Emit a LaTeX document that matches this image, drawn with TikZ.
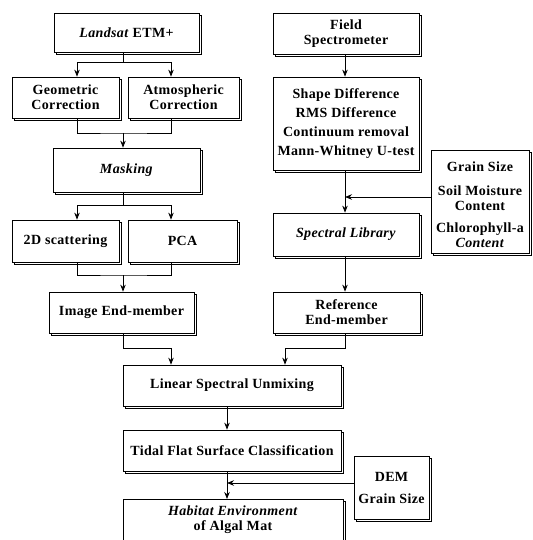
\documentclass[tikz,border=0pt]{standalone}
\usepackage{fontspec}
\setmainfont{Liberation Serif}[LetterSpace=2.5]
\usetikzlibrary{shadows,arrows.meta}
\newcommand{\fs}{\fontsize{14}{15}\selectfont\bfseries}
\begin{document}
\begin{tikzpicture}[x=1pt,y=-1pt,
  bx/.style={draw, fill=white, line width=0.7pt, inner sep=1pt, align=center, font=\fs,
    general shadow={shadow xshift=2.2pt, shadow yshift=-2.2pt, fill=white, draw=black, line width=0.7pt}},
  arr/.style={-{Stealth[length=7pt,width=5.5pt]}, line width=0.8pt},
  ln/.style={line width=0.8pt}]
\useasboundingbox (0,0) rectangle (532,540);
% left column
\node[bx, minimum width=145pt, minimum height=39pt] (landsat) at (126.5,32.5) {\textit{Landsat} ETM+};
\node[bx, minimum width=107pt, minimum height=41pt] (geo) at (65.5,97.5) {Geometric\\Correction};
\node[bx, minimum width=111pt, minimum height=41pt] (atm) at (183.5,97.5) {Atmospheric\\Correction};
\node[bx, minimum width=147pt, minimum height=44pt] (mask) at (126.5,170) {\textit{Masking}};
\node[bx, minimum width=107pt, minimum height=42pt] (scat) at (65.5,241) {2D scattering};
\node[bx, minimum width=109pt, minimum height=42pt] (pca) at (182.5,241) {PCA};
\node[bx, minimum width=145pt, minimum height=41pt] (img) at (121.5,312.5) {Image End-member};
% right column
\node[bx, minimum width=146pt, minimum height=41pt] (field) at (346,33.5) {Field\\Spectrometer};
\node[bx, minimum width=146pt, minimum height=93pt] (shape) at (346,123.5) {Shape Difference\\[4pt]RMS Difference\\[4pt]Continuum removal\\[4pt]Mann-Whitney U-test};
\node[bx, minimum width=98pt, minimum height=103pt] (grain) at (480,201.5) {\raisebox{0pt}[17pt]{Grain Size}\\[9pt]Soil Moisture\\Content\\[7pt]Chlorophyll-a\\\textit{Content}};
\node[bx, minimum width=146pt, minimum height=43pt] (spec) at (346,234.5) {\textit{Spectral Library}};
\node[bx, minimum width=147pt, minimum height=41pt] (ref) at (346.5,312.5) {Reference\\End-member};
% bottom
\node[bx, minimum width=218pt, minimum height=41pt] (lin) at (232,385.5) {Linear Spectral Unmixing};
\node[bx, minimum width=218pt, minimum height=41pt] (tidal) at (232,450.5) {Tidal Flat Surface Classification};
\node[bx, minimum width=75pt, minimum height=63pt] (dem) at (391.5,487.5) {DEM\\[7pt]Grain Size};
\node[bx, minimum width=220pt, minimum height=61pt, anchor=north] (hab) at (233,499) {};
\node[font=\fs, align=center] (habt) at (233,520) {\textit{Habitat Environment}\\of Algal Mat};
% columns / junctions
\coordinate (cL) at (77,0);
\coordinate (cR) at (171,0);
\coordinate (cM) at (123,0);
\coordinate (cS) at (345,0);
\coordinate (cT) at (227,0);
\coordinate (cX) at (285,0);
\coordinate (j1) at (123,62);
\coordinate (j2) at (123,133);
\coordinate (j3) at (123,205);
\coordinate (j4) at (123,275);
\coordinate (j5) at (171,348);
\coordinate (j6) at (285,348);
\coordinate (j7) at (345,197);
\coordinate (j8) at (227,483);
% connectors left
\draw[ln] (landsat.south -| cM) -- (j1);
\draw[arr] (j1) -| (geo.north -| cL);
\draw[arr] (j1) -| (atm.north -| cR);
\draw[ln] (geo.south -| cL) |- (j2) -| (atm.south -| cR);
\draw[arr] (j2) -- (mask.north -| cM);
\draw[ln] (mask.south -| cM) -- (j3);
\draw[arr] (j3) -| (scat.north -| cL);
\draw[arr] (j3) -| (pca.north -| cR);
\draw[ln] (scat.south -| cL) |- (j4) -| (pca.south -| cR);
\draw[arr] (j4) -- (img.north -| cM);
\draw[arr] (img.south -| cM) |- (j5) -- (lin.north -| cR);
% connectors right
\draw[arr] (field.south -| cS) -- (shape.north -| cS);
\draw[arr] (shape.south -| cS) -- (spec.north -| cS);
\draw[arr] (grain.west |- j7) -- (j7);
\draw[arr] (spec.south -| cS) -- (ref.north -| cS);
\draw[arr] (ref.south -| cS) |- (j6) -- (lin.north -| cX);
% bottom
\draw[arr] (lin.south -| cT) -- (tidal.north -| cT);
\draw[arr] (tidal.south -| cT) -- (hab.north -| cT);
\draw[arr] (dem.west |- j8) -- (j8);
\end{tikzpicture}
\end{document}
